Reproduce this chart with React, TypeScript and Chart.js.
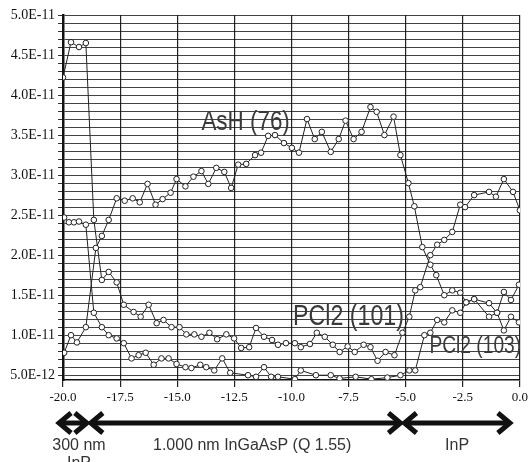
import React, { useEffect, useRef } from "react";
import { Chart, registerables } from "chart.js";

Chart.register(...registerables);

// ---------- axes ----------
const X_MIN = -20;
const X_MAX = 0;
const X_STEP = 2.5;
const Y_UNIT = 1e-11; // values below are in units of 1E-11
const Y_MIN = 0.44;
const Y_MAX = 5.0;
const Y_GRID_STEP_TENTHS = 1; // a gridline every 0.1 (=1E-12)
const Y_LABEL_EVERY_TENTHS = 5; // a label every 0.5 (=5E-12)

// ---------- series: AsH (76) ----------
const asH_x = [-19.95, -19.65, -19.39, -19.0, -18.56, -18.3, -18.0, -17.65, -17.3, -16.95, -16.64, -16.3, -15.95, -15.64, -15.29, -15.03, -14.64, -14.29, -13.94, -13.64, -13.29, -12.94, -12.64, -12.33, -11.98, -11.59, -11.33, -11.02, -10.72, -10.33, -9.98, -9.67, -9.32, -8.98, -8.67, -8.28, -7.93, -7.63, -7.28, -6.93, -6.54, -6.27, -5.93, -5.53, -5.23, -4.88, -4.62, -4.27, -3.92, -3.66, -3.31, -2.96, -2.61, -2.35, -2.0, -1.35, -1.0, -0.7, -0.39, -0.04];
const asH_y = [0.78, 1.0, 0.91, 1.1, 2.09, 2.24, 2.44, 2.71, 2.68, 2.71, 2.66, 2.89, 2.63, 2.7, 2.78, 2.95, 2.86, 2.98, 3.05, 2.89, 3.09, 3.04, 2.84, 3.13, 3.14, 3.25, 3.28, 3.49, 3.5, 3.4, 3.34, 3.28, 3.7, 3.45, 3.54, 3.29, 3.45, 3.68, 3.45, 3.54, 3.85, 3.79, 3.5, 3.73, 3.25, 2.9, 2.61, 2.1, 1.88, 1.75, 1.5, 1.56, 1.53, 1.41, 1.45, 1.4, 1.28, 1.06, 1.23, 1.16];

// ---------- series: PCl2 (101) ----------
const pcl101_x = [-20.0, -19.65, -19.3, -19.0, -18.65, -18.3, -18.0, -17.65, -17.34, -16.91, -16.6, -16.25, -15.9, -15.6, -15.25, -14.9, -14.6, -14.25, -13.94, -13.59, -13.25, -12.85, -12.51, -12.2, -11.85, -11.55, -11.2, -10.85, -10.59, -10.24, -9.85, -9.59, -9.19, -8.89, -8.54, -8.19, -7.89, -7.54, -7.23, -6.84, -6.54, -6.23, -5.88, -5.49, -5.14, -4.84, -4.58, -4.36, -3.92, -3.62, -3.31, -2.96, -2.61, -2.4, -2.0, -1.35, -1.05, -0.7, -0.3, 0.0];
const pcl101_y = [4.22, 4.66, 4.6, 4.65, 2.44, 1.69, 1.79, 1.66, 1.38, 1.29, 1.23, 1.38, 1.15, 1.19, 1.1, 1.1, 1.01, 1.01, 0.98, 1.03, 0.95, 1.01, 0.96, 0.84, 0.85, 1.09, 0.98, 0.94, 0.88, 0.9, 0.9, 0.85, 0.89, 1.03, 0.98, 0.88, 0.79, 0.86, 0.79, 0.88, 0.85, 0.68, 0.79, 0.75, 1.03, 1.23, 1.56, 1.6, 2.0, 2.13, 2.19, 2.29, 2.63, 2.6, 2.75, 2.79, 2.73, 2.95, 2.79, 2.56];

// ---------- series: PCl2 (103) ----------
const pcl103_x = [-19.95, -19.74, -19.52, -19.3, -19.0, -18.65, -18.3, -18.0, -17.65, -17.34, -17.0, -16.69, -16.38, -16.03, -15.69, -15.38, -15.03, -14.64, -14.38, -13.99, -13.73, -13.38, -13.03, -12.68, -11.9, -11.55, -11.2, -10.89, -10.59, -9.85, -9.59, -8.93, -8.28, -7.89, -7.19, -6.5, -5.8, -5.23, -4.84, -4.58, -4.18, -3.92, -3.62, -3.31, -2.96, -2.61, -2.35, -2.0, -1.35, -1.0, -0.7, -0.39, -0.04];
const pcl103_y = [2.47, 2.41, 2.41, 2.42, 2.38, 1.28, 1.1, 1.0, 0.96, 0.9, 0.71, 0.75, 0.78, 0.63, 0.71, 0.71, 0.64, 0.6, 0.59, 0.63, 0.6, 0.56, 0.71, 0.53, 0.5, 0.48, 0.6, 0.48, 0.48, 0.45, 0.56, 0.5, 0.5, 0.46, 0.48, 0.45, 0.47, 0.5, 0.56, 0.56, 1.0, 1.03, 1.19, 1.16, 1.31, 1.28, 1.41, 1.45, 1.23, 1.28, 1.54, 1.44, 1.63];

// ---------- annotations ----------
const SERIES_NAMES = ["AsH (76)", "PCl2 (101)", "PCl2 (103)"];
const SERIES_LABEL_X = [-13.94, -9.93, -3.96];
const SERIES_LABEL_Y = [3.56, 1.13, 0.78];
const SERIES_LABEL_SIZE = [28, 29, 24];

const ARROW_BOUNDS = [-20.26, -18.87, -5.14, -0.35];
const REGION_TEXT = [["300 nm", "InP"], ["1.000 nm InGaAsP (Q 1.55)"], ["InP"]];
const REGION_TEXT_X = [-19.3, -11.72, -2.75];

const toPts = (xs: number[], ys: number[]) => xs.map((x, i) => ({ x, y: ys[i] }));

const annotPlugin = {
  id: "annot",
  afterDraw(chart: any) {
    const { ctx, chartArea, scales } = chart;
    const xs = scales.x;
    const ys = scales.y;
    ctx.save();
    // series labels (condensed)
    ctx.fillStyle = "#3a3a3a";
    ctx.textAlign = "left";
    ctx.textBaseline = "alphabetic";
    SERIES_NAMES.forEach((name, i) => {
      ctx.save();
      ctx.translate(xs.getPixelForValue(SERIES_LABEL_X[i]), ys.getPixelForValue(SERIES_LABEL_Y[i]));
      ctx.scale(0.8, 1);
      ctx.font = `${SERIES_LABEL_SIZE[i]}px "Liberation Sans", sans-serif`;
      ctx.fillText(name, 0, 0);
      ctx.restore();
    });
    // arrows
    const ay = chartArea.bottom + 43;
    ctx.strokeStyle = "#111";
    ctx.lineWidth = 5;
    ctx.lineJoin = "miter";
    ctx.lineCap = "butt";
    for (let i = 0; i < ARROW_BOUNDS.length - 1; i++) {
      const a = xs.getPixelForValue(ARROW_BOUNDS[i]);
      const b = xs.getPixelForValue(ARROW_BOUNDS[i + 1]);
      const h = 14;
      const w = 10;
      ctx.beginPath();
      ctx.moveTo(a + 3, ay);
      ctx.lineTo(b - 3, ay);
      ctx.stroke();
      ctx.beginPath();
      ctx.moveTo(a + h, ay - w);
      ctx.lineTo(a + 2, ay);
      ctx.lineTo(a + h, ay + w);
      ctx.stroke();
      ctx.beginPath();
      ctx.moveTo(b - h, ay - w);
      ctx.lineTo(b - 2, ay);
      ctx.lineTo(b - h, ay + w);
      ctx.stroke();
    }
    // region texts
    ctx.fillStyle = "#333";
    ctx.textAlign = "center";
    ctx.font = '16px "Liberation Sans", "DejaVu Sans", sans-serif';
    REGION_TEXT.forEach((lines, i) => {
      lines.forEach((t, j) => {
        ctx.fillText(t, xs.getPixelForValue(REGION_TEXT_X[i]), chartArea.bottom + 70 + j * 18);
      });
    });
    ctx.restore();
  },
};

export default function App() {
  const ref = useRef<HTMLCanvasElement | null>(null);
  useEffect(() => {
    if (!ref.current) return;
    const lineStyle = {
      borderColor: "#222",
      borderWidth: 1,
      pointRadius: 2.8,
      pointBorderWidth: 1,
      pointBorderColor: "#222",
      pointBackgroundColor: "#fff",
      fill: false,
      tension: 0,
    };
    const chart = new Chart(ref.current, {
      type: "line",
      data: {
        datasets: [
          { label: SERIES_NAMES[0], data: toPts(asH_x, asH_y), ...lineStyle },
          { label: SERIES_NAMES[1], data: toPts(pcl101_x, pcl101_y), ...lineStyle },
          { label: SERIES_NAMES[2], data: toPts(pcl103_x, pcl103_y), ...lineStyle },
        ],
      },
      options: {
        animation: false,
        responsive: false,
        devicePixelRatio: 1,
        layout: { padding: { top: 15, right: 8, left: 0, bottom: 0 } },
        plugins: { legend: { display: false }, tooltip: { enabled: false } },
        scales: {
          x: {
            type: "linear",
            min: X_MIN,
            max: X_MAX,
            ticks: {
              stepSize: X_STEP,
              color: "#111",
              font: { family: '"Liberation Serif", serif', size: 13 },
              padding: 3,
              maxRotation: 0,
              callback: (v: any) => Number(v).toFixed(1),
            },
            grid: { color: "#222", lineWidth: 1.2, tickLength: 7, tickColor: "#222" },
            border: { color: "#111", width: 1.5 },
            afterFit: (s: any) => {
              s.height = 82;
            },
          },
          y: {
            type: "linear",
            min: Y_MIN,
            max: Y_MAX,
            afterBuildTicks: (s: any) => {
              const t = [];
              for (let k = Math.round(Y_MAX * 10); k >= Math.ceil(Y_MIN * 10); k -= Y_GRID_STEP_TENTHS) t.push({ value: k / 10 });
              s.ticks = t.reverse();
            },
            ticks: {
              autoSkip: false,
              color: "#111",
              font: { family: '"Liberation Serif", serif', size: 14 },
              padding: 3,
              callback: (v: any) => {
                const k = Math.round(Number(v) * 10);
                return k % Y_LABEL_EVERY_TENTHS === 0 ? ((k / 10) * Y_UNIT).toExponential(1).toUpperCase() : "";
              },
            },
            grid: { color: "rgba(20,20,20,0.8)", lineWidth: 1, tickLength: 5, tickColor: "#333" },
            border: { color: "#111", width: 2.5 },
            afterFit: (s: any) => {
              s.width = 63;
            },
          },
        },
      },
      plugins: [annotPlugin],
    });
    return () => chart.destroy();
  }, []);
  return (
    <canvas
      ref={ref}
      width={531}
      height={462}
      style={{ position: "fixed", left: 0, top: 0, width: 531, height: 462, background: "#fff" }}
    />
  );
}
